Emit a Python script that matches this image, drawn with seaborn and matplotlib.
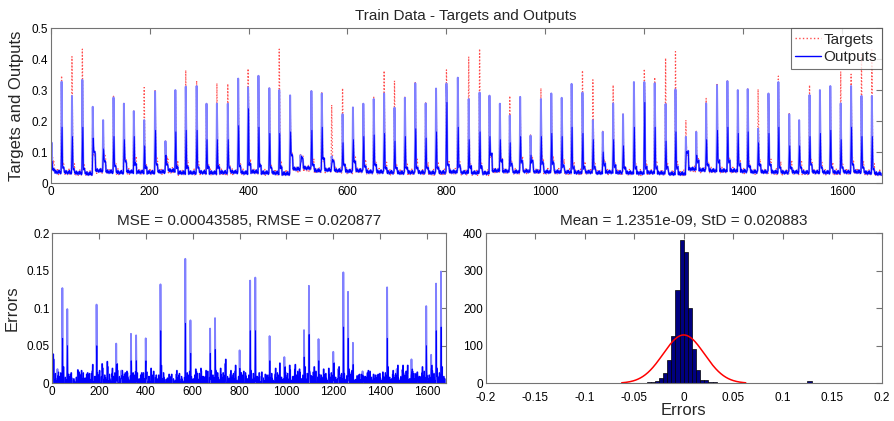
import numpy as np
import pandas as pd
import matplotlib
matplotlib.use("Agg")
import matplotlib.pyplot as plt
import seaborn as sns

# ---------------- data ----------------
n_samples = 1680

spike_pos = [2, 22, 43, 64, 85, 106, 127, 148, 168, 189,
             211, 232, 252, 273, 295, 315, 336, 358, 379, 399,
             420, 442, 462, 484, 505, 527, 548, 568, 590, 611,
             632, 653, 674, 695, 716, 737, 758, 779, 800, 823,
             845, 867, 887, 908, 928, 949, 970, 991, 1012, 1033,
             1053, 1075, 1096, 1116, 1137, 1157, 1179, 1200, 1221, 1243,
             1263, 1284, 1305, 1325, 1347, 1368, 1389, 1409, 1430, 1451,
             1471, 1493, 1513, 1534, 1555, 1576, 1597, 1618, 1639, 1660]

out_peak = [0.130, 0.327, 0.281, 0.333, 0.246, 0.203, 0.276, 0.256, 0.232, 0.203,
            0.296, 0.135, 0.300, 0.311, 0.313, 0.256, 0.256, 0.256, 0.337, 0.309,
            0.346, 0.306, 0.300, 0.283, 0.090, 0.297, 0.289, 0.086, 0.222, 0.244,
            0.256, 0.271, 0.289, 0.243, 0.275, 0.322, 0.257, 0.305, 0.321, 0.340,
            0.271, 0.292, 0.282, 0.256, 0.218, 0.278, 0.153, 0.271, 0.289, 0.275,
            0.320, 0.292, 0.203, 0.165, 0.257, 0.222, 0.326, 0.326, 0.322, 0.255,
            0.302, 0.149, 0.165, 0.257, 0.316, 0.329, 0.300, 0.303, 0.175, 0.289,
            0.326, 0.222, 0.203, 0.284, 0.300, 0.313, 0.257, 0.313, 0.281, 0.281]

tgt_peak = [0.130, 0.346, 0.408, 0.432, 0.246, 0.205, 0.280, 0.260, 0.235, 0.308,
            0.298, 0.137, 0.302, 0.364, 0.330, 0.258, 0.322, 0.320, 0.339, 0.369,
            0.348, 0.308, 0.432, 0.285, 0.092, 0.299, 0.291, 0.252, 0.306, 0.246,
            0.258, 0.279, 0.362, 0.330, 0.277, 0.324, 0.259, 0.306, 0.365, 0.342,
            0.408, 0.433, 0.284, 0.258, 0.281, 0.280, 0.155, 0.306, 0.291, 0.277,
            0.322, 0.363, 0.333, 0.167, 0.316, 0.224, 0.328, 0.368, 0.341, 0.403,
            0.424, 0.203, 0.167, 0.273, 0.318, 0.331, 0.302, 0.305, 0.303, 0.291,
            0.345, 0.224, 0.205, 0.316, 0.302, 0.315, 0.360, 0.351, 0.414, 0.430]

out_side = [0.07, 0.18, 0.15, 0.18, 0.145, 0.11, 0.15, 0.14, 0.15, 0.12,
            0.17, 0.09, 0.165, 0.17, 0.17, 0.14, 0.14, 0.14, 0.185, 0.24,
            0.18, 0.16, 0.16, 0.165, 0.07, 0.17, 0.18, 0.07, 0.13, 0.14,
            0.15, 0.155, 0.16, 0.135, 0.15, 0.175, 0.145, 0.165, 0.26, 0.18,
            0.14, 0.165, 0.15, 0.14, 0.13, 0.15, 0.09, 0.15, 0.16, 0.15,
            0.18, 0.16, 0.14, 0.10, 0.14, 0.12, 0.18, 0.26, 0.18, 0.135,
            0.165, 0.10, 0.09, 0.14, 0.17, 0.18, 0.16, 0.165, 0.13, 0.16,
            0.18, 0.12, 0.12, 0.15, 0.16, 0.17, 0.14, 0.18, 0.15, 0.15]

tgt_side = [0.07, 0.19, 0.21, 0.23, 0.145, 0.11, 0.15, 0.14, 0.15, 0.17,
            0.17, 0.09, 0.165, 0.195, 0.18, 0.14, 0.17, 0.17, 0.185, 0.27,
            0.18, 0.16, 0.23, 0.165, 0.07, 0.17, 0.18, 0.15, 0.17, 0.14,
            0.15, 0.16, 0.20, 0.18, 0.15, 0.175, 0.145, 0.165, 0.28, 0.18,
            0.21, 0.235, 0.15, 0.14, 0.16, 0.15, 0.09, 0.17, 0.16, 0.15,
            0.18, 0.195, 0.205, 0.10, 0.17, 0.12, 0.18, 0.28, 0.19, 0.21,
            0.225, 0.125, 0.09, 0.15, 0.17, 0.18, 0.16, 0.165, 0.19, 0.16,
            0.19, 0.12, 0.12, 0.165, 0.16, 0.17, 0.19, 0.20, 0.22, 0.225]

out_after = [0.045, 0.05, 0.045, 0.045, 0.10, 0.07, 0.055, 0.07, 0.06, 0.05,
             0.06, 0.06, 0.05, 0.05, 0.05, 0.05, 0.05, 0.05, 0.055, 0.06,
             0.055, 0.05, 0.05, 0.09, 0.08, 0.06, 0.08, 0.07, 0.06, 0.07,
             0.055, 0.06, 0.05, 0.05, 0.05, 0.05, 0.05, 0.05, 0.06, 0.055,
             0.05, 0.05, 0.09, 0.07, 0.06, 0.07, 0.07, 0.065, 0.065, 0.055,
             0.05, 0.05, 0.05, 0.06, 0.055, 0.05, 0.05, 0.05, 0.05, 0.05,
             0.05, 0.10, 0.07, 0.06, 0.07, 0.07, 0.06, 0.055, 0.06, 0.06,
             0.05, 0.05, 0.05, 0.06, 0.05, 0.05, 0.05, 0.06, 0.05, 0.045]

tgt_after = [0.07, 0.055, 0.05, 0.05, 0.09, 0.085, 0.06, 0.075, 0.08, 0.06,
             0.08, 0.075, 0.06, 0.065, 0.06, 0.06, 0.06, 0.055, 0.06, 0.07,
             0.06, 0.055, 0.06, 0.085, 0.075, 0.065, 0.075, 0.075, 0.06, 0.08,
             0.07, 0.065, 0.06, 0.06, 0.06, 0.065, 0.055, 0.06, 0.065, 0.06,
             0.055, 0.055, 0.085, 0.075, 0.065, 0.08, 0.08, 0.075, 0.075, 0.065,
             0.06, 0.06, 0.065, 0.07, 0.06, 0.055, 0.06, 0.06, 0.06, 0.055,
             0.06, 0.095, 0.075, 0.065, 0.075, 0.075, 0.065, 0.06, 0.065, 0.065,
             0.06, 0.065, 0.065, 0.07, 0.06, 0.06, 0.06, 0.07, 0.06, 0.05]

out_base = [0.035, 0.034, 0.032, 0.030, 0.040, 0.036, 0.034, 0.036, 0.035, 0.034,
            0.036, 0.040, 0.033, 0.033, 0.034, 0.033, 0.034, 0.035, 0.033, 0.036,
            0.033, 0.032, 0.030, 0.045, 0.048, 0.040, 0.042, 0.040, 0.038, 0.040,
            0.036, 0.036, 0.034, 0.033, 0.034, 0.034, 0.033, 0.034, 0.036, 0.034,
            0.033, 0.032, 0.040, 0.038, 0.036, 0.038, 0.037, 0.036, 0.036, 0.035,
            0.034, 0.035, 0.033, 0.035, 0.034, 0.033, 0.032, 0.034, 0.032, 0.030,
            0.030, 0.045, 0.042, 0.040, 0.040, 0.040, 0.038, 0.036, 0.036, 0.035,
            0.034, 0.035, 0.034, 0.035, 0.034, 0.034, 0.035, 0.036, 0.033, 0.030]

tgt_base = [0.034, 0.033, 0.031, 0.030, 0.038, 0.036, 0.034, 0.035, 0.034, 0.034,
            0.035, 0.038, 0.032, 0.033, 0.034, 0.033, 0.033, 0.034, 0.033, 0.035,
            0.032, 0.031, 0.030, 0.042, 0.045, 0.039, 0.040, 0.039, 0.037, 0.039,
            0.035, 0.035, 0.033, 0.033, 0.033, 0.034, 0.032, 0.033, 0.035, 0.033,
            0.032, 0.031, 0.038, 0.037, 0.035, 0.037, 0.036, 0.035, 0.035, 0.034,
            0.033, 0.034, 0.033, 0.034, 0.033, 0.032, 0.031, 0.033, 0.031, 0.030,
            0.030, 0.043, 0.040, 0.039, 0.039, 0.039, 0.037, 0.035, 0.035, 0.034,
            0.033, 0.034, 0.033, 0.034, 0.033, 0.033, 0.034, 0.035, 0.032, 0.030]

# small sample-to-sample wiggle seen on the baseline
out_ripple = [0.000, 0.004, -0.003, 0.006, -0.002, 0.002, -0.005]
tgt_ripple = [0.004, -0.006, 0.009, -0.003, 0.012, -0.007, 0.002, -0.005, 0.007, -0.004, 0.001]

# error histogram (96 bins over [-0.2, 0.2])
hist_counts = [0, 0, 1, 0, 0, 0, 1, 0, 0, 1,
               0, 0, 0, 0, 0, 0, 2, 0, 2, 0,
               0, 0, 0, 1, 0, 0, 0, 0, 0, 0,
               2, 0, 0, 0, 2, 0, 1, 2, 2, 3,
               4, 5, 15, 27, 62, 125, 248, 383, 350, 201,
               92, 36, 10, 9, 4, 3, 2, 2, 2, 2,
               1, 1, 0, 1, 1, 1, 0, 0, 0, 1,
               0, 0, 1, 1, 0, 0, 0, 0, 5, 0,
               0, 2, 0, 0, 2, 0, 0, 1, 0, 0,
               0, 0, 0, 0, 0, 0]
err_mean = 1.2351e-09
err_std = 0.020883
mse_val = "0.00043585"
rmse_val = "0.020877"

# ---------------- build the series ----------------
def build(peak, side, after, base, ripple):
    y = np.full(n_samples, base[0], dtype=float)
    bounds = spike_pos + [n_samples]
    for i, p in enumerate(spike_pos):
        end = bounds[i + 1]
        y[p:end] = base[i]
        y[p + 2:min(p + 6, end)] = after[i]
    rip = np.resize(np.array(ripple), n_samples)
    y = y + rip
    for i, p in enumerate(spike_pos):
        y[p] = peak[i]
        y[p + 1] = side[i]
    return y

outputs = build(out_peak, out_side, out_after, out_base, out_ripple)
targets = build(tgt_peak, tgt_side, tgt_after, tgt_base, tgt_ripple)
errors = targets - outputs
idx = np.arange(n_samples)
is_peak = np.isin(idx, spike_pos)

df = pd.DataFrame({"x": idx, "Targets": targets, "Outputs": outputs, "Errors": errors})
# denser core stroke (the part where up- and down-strokes overlap in the original)
core = df[~is_peak]

n_bins = len(hist_counts)
bin_w = 0.4 / n_bins
centers = -0.2 + bin_w * (np.arange(n_bins) + 0.5)
hist_df = pd.DataFrame({"center": centers, "count": hist_counts})

# ---------------- plotting ----------------
sns.set_theme(style="white")
plt.rcParams["font.family"] = ["Liberation Sans", "DejaVu Sans"]

fig = plt.figure(figsize=(8.94, 4.21), dpi=100)
ax1 = fig.add_axes([0.0567, 0.5653, 0.9296, 0.368])
ax2 = fig.add_axes([0.0585, 0.0895, 0.440, 0.3563])
ax3 = fig.add_axes([0.5433, 0.0895, 0.443, 0.3563])

spine_col = "0.45"
tick_fs = 8.5
blue = (0.0, 0.0, 1.0)
light_blue = (0.5, 0.5, 1.0)

def style(ax):
    for s in ax.spines.values():
        s.set_color(spine_col)
        s.set_linewidth(0.8)
    ax.tick_params(direction="in", top=True, right=True, length=4, width=0.8,
                   color=spine_col, labelsize=tick_fs, labelcolor="black", pad=2)
    ax.grid(False)

# Top: targets and outputs
sns.lineplot(data=df, x="x", y="Targets", ax=ax1, color=(1.0, 0.3, 0.3),
             linestyle=":", linewidth=0.9, label="Targets", estimator=None)
sns.lineplot(data=df, x="x", y="Outputs", ax=ax1, color=light_blue,
             linewidth=1.4, label="Outputs", estimator=None)
sns.lineplot(data=core, x="x", y="Outputs", ax=ax1, color=blue,
             linewidth=0.7, estimator=None, legend=False)
ax1.set_xlim(0, n_samples)
ax1.set_ylim(0, 0.5)
ax1.set_xticks(np.arange(0, 1601, 200))
ax1.set_yticks([0, 0.1, 0.2, 0.3, 0.4, 0.5])
ax1.set_yticklabels(["0", "0.1", "0.2", "0.3", "0.4", "0.5"])
ax1.set_xlabel("")
ax1.set_ylabel("Targets and Outputs", fontsize=12, labelpad=5)
ax1.set_title("Train Data - Targets and Outputs", fontsize=11, pad=6)
style(ax1)
leg = ax1.legend(loc="upper right", fontsize=11, frameon=True, fancybox=False,
                 edgecolor="0.3", borderaxespad=0.0, handlelength=1.7,
                 handletextpad=0.15, borderpad=0.3, labelspacing=0.25)
leg.get_frame().set_linewidth(0.8)
leg_lines = leg.get_lines()
leg_lines[1].set_color(blue)
for h in leg_lines:
    h.set_linewidth(1.0)

# Bottom left: errors
sns.lineplot(data=df, x="x", y="Errors", ax=ax2, color=light_blue,
             linewidth=1.3, estimator=None)
sns.lineplot(data=core, x="x", y="Errors", ax=ax2, color=blue,
             linewidth=0.7, estimator=None)
ax2.set_xlim(0, n_samples)
ax2.set_ylim(0, 0.2)
ax2.set_xticks(np.arange(0, 1601, 200))
ax2.set_yticks([0, 0.05, 0.1, 0.15, 0.2])
ax2.set_yticklabels(["0", "0.05", "0.1", "0.15", "0.2"])
ax2.set_xlabel("")
ax2.set_ylabel("Errors", fontsize=12, labelpad=5)
ax2.set_title("MSE = %s, RMSE = %s" % (mse_val, rmse_val), fontsize=11, pad=6)
style(ax2)

# Bottom right: error histogram with normal fit
sns.histplot(data=hist_df, x="center", weights="count", bins=n_bins,
             binrange=(-0.2, 0.2), ax=ax3,
             color=(0.0, 0.0, 0.5), edgecolor="black", linewidth=0.5, alpha=1.0)
xs = np.linspace(err_mean - 3 * err_std, err_mean + 3 * err_std, 200)
pdf = sum(hist_counts) * bin_w / (err_std * np.sqrt(2 * np.pi)) * np.exp(-0.5 * ((xs - err_mean) / err_std) ** 2)
sns.lineplot(x=xs, y=pdf, ax=ax3, color="red", linewidth=1.1)
ax3.set_xlim(-0.2, 0.2)
ax3.set_ylim(0, 400)
ax3.set_xticks([-0.2, -0.15, -0.1, -0.05, 0, 0.05, 0.1, 0.15, 0.2])
ax3.set_xticklabels(["-0.2", "-0.15", "-0.1", "-0.05", "0", "0.05", "0.1", "0.15", "0.2"])
ax3.set_yticks([0, 100, 200, 300, 400])
ax3.set_yticklabels(["0", "100", "200", "300", "400"])
ax3.set_xlabel("Errors", fontsize=12, labelpad=-1)
ax3.set_ylabel("")
ax3.set_title("Mean = %s, StD = %s" % ("1.2351e-09", "0.020883"), fontsize=11, pad=6)
style(ax3)
ax3.tick_params(axis="x", pad=6.5)

fig.savefig("out.png", dpi=100, facecolor="white")
